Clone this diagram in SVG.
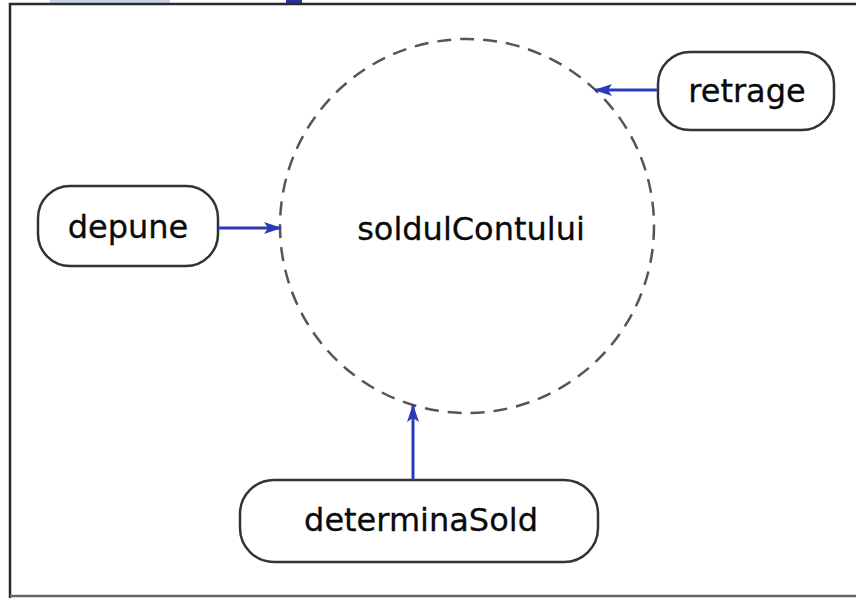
<svg xmlns="http://www.w3.org/2000/svg" width="856" height="600" viewBox="0 0 856 600">
  <defs>
    <marker id="arrowL" viewBox="0 0 18 12" refX="17" refY="6" markerWidth="18" markerHeight="12" orient="auto" markerUnits="userSpaceOnUse">
      <path d="M0,0 L18,6 L0,12 L4,6 Z" fill="#2c3bb8"/>
    </marker>
  </defs>
  <style>
    .node rect { fill: #ffffff; stroke: #333333; stroke-width: 2.5; }
    .label { font-family: "DejaVu Sans", Verdana, sans-serif; font-size: 32px; fill: #0a0a0a; stroke: #0a0a0a; stroke-width: 0.3; text-anchor: middle; }
    .edge { stroke: #2c3bb8; stroke-width: 3; fill: none; marker-end: url(#arrowL); }
  </style>

  <!-- page -->
  <rect x="0" y="0" width="856" height="600" fill="#ffffff"/>
  <rect x="50" y="0" width="120" height="3" fill="#c9d3e3"/>
  <rect x="286" y="0" width="16" height="3" fill="#2b2f9a"/>
  <path d="M10,598 V4 H856" fill="none" stroke="#2a2a2a" stroke-width="2.5"/>
  <line x1="10" y1="596" x2="856" y2="596" stroke="#666666" stroke-width="2.5"/>

  <!-- central object -->
  <g id="soldulContului">
    <circle cx="467" cy="226" r="187" fill="none" stroke="#555555" stroke-width="2.5" stroke-dasharray="14 9"/>
    <text class="label" x="471" y="240">soldulContului</text>
  </g>

  <g id="depune" class="node">
    <rect x="38" y="186" width="180" height="80" rx="32" ry="32"/>
    <text class="label" x="128" y="238">depune</text>
  </g>

  <g id="retrage" class="node">
    <rect x="658" y="52" width="176" height="78" rx="32" ry="32"/>
    <text class="label" x="747" y="102">retrage</text>
  </g>

  <g id="determinaSold" class="node">
    <rect x="240" y="480" width="358" height="82" rx="34" ry="34"/>
    <text class="label" x="421" y="531">determinaSold</text>
  </g>

  <!-- connectors -->
  <g id="connectors">
    <line class="edge" x1="218" y1="228" x2="281" y2="228"/>
    <line class="edge" x1="658" y1="90" x2="595" y2="90"/>
    <line class="edge" x1="413" y1="480" x2="413" y2="405"/>
  </g>
</svg>
